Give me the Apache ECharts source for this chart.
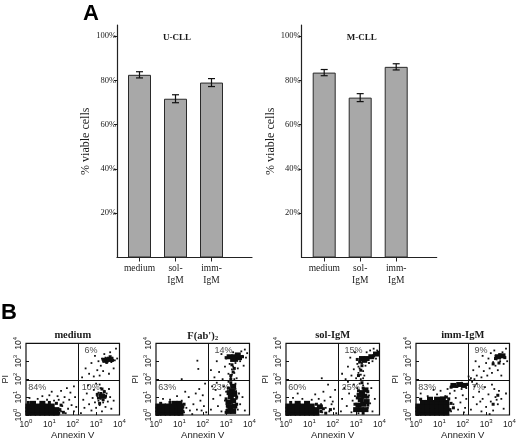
<!DOCTYPE html>
<html><head><meta charset="utf-8">
<script src="https://cdn.jsdelivr.net/npm/echarts@6/dist/echarts.min.js"></script>
<style>html,body{margin:0;padding:0;background:#fff}#c{width:520px;height:441px}</style>
</head><body><div id="c"></div><script>
// ---------- Panel A: % viable cells ----------
const conditionsA = ['medium', 'sol-\nIgM', 'imm-\nIgM'];
const uCllMean = [82.5, 71.7, 79.0];
const uCllErr  = [1.4, 1.8, 1.8];
const mCllMean = [83.5, 72.2, 86.1];
const mCllErr  = [1.4, 1.8, 1.4];
const yTicksA  = [20, 40, 60, 80, 100];
const panelATitles = ['U-CLL', 'M-CLL'];

// ---------- Panel B: Annexin V / PI flow cytometry (log10 intensities) ----------
const facsTitles = ['medium', "F(ab')", 'sol-IgM', 'imm-IgM'];
const gateX = 2.24;   // log10 Annexin V gate
const gateY = 1.92;   // log10 PI gate
const pctLL = [84, 63, 60, 83];
const pctLR = [10, 23, 25, 7];
const pctUR = [6, 14, 15, 9];

// dense population cores
const coreMedium = [[0.1,0.1],[0.3,0.1],[0.5,0.1],[0.7,0.1],[0.9,0.1],[1.1,0.1],[1.3,0.1],
  [0.1,0.3],[0.3,0.3],[0.5,0.3],[0.7,0.3],[0.9,0.3],[1.1,0.3],[1.3,0.3],
  [0.1,0.5],[0.3,0.5],[0.5,0.5],[0.7,0.5],[0.9,0.5],[1.1,0.5],[0.3,0.65],[0.7,0.65],
  [3.4,3.05],[3.6,3.1],[3.25,1.05]];
const coreFab = [[0.1,0.1],[0.3,0.1],[0.5,0.1],[0.7,0.1],[0.9,0.1],[1.05,0.1],
  [0.1,0.3],[0.3,0.3],[0.5,0.3],[0.7,0.3],[0.9,0.3],[1.05,0.3],
  [0.1,0.5],[0.3,0.5],[0.5,0.5],[0.7,0.5],[0.9,0.5],[1.05,0.5],[0.8,0.65],[1.0,0.65],
  [3.1,0.2],[3.3,0.2],[3.2,0.45],[3.35,0.5],[3.1,0.7],[3.3,0.8],[3.2,1.0],[3.35,1.15],[3.25,1.35],[3.3,1.6],[3.15,1.25],
  [3.15,3.25],[3.35,3.25],[3.55,3.2],[3.3,3.1],[3.5,3.35]];
const coreSol = [[0.1,0.1],[0.3,0.1],[0.5,0.1],[0.7,0.1],[0.9,0.1],[1.1,0.1],[1.3,0.1],
  [0.1,0.3],[0.3,0.3],[0.5,0.3],[0.7,0.3],[0.9,0.3],[1.1,0.3],[1.3,0.3],
  [0.1,0.5],[0.3,0.5],[0.5,0.5],[0.7,0.5],[0.9,0.5],[1.1,0.5],[1.45,0.45],[0.5,0.65],[0.9,0.65],
  [3.2,0.3],[3.4,0.3],[3.1,0.55],[3.3,0.6],[3.45,0.75],[3.2,0.85],[3.35,1.05],[3.25,1.25],[3.4,1.4],[3.15,1.1],[3.0,0.3],
  [3.25,3.15],[3.45,3.15],[3.65,3.25],[3.85,3.4],[3.35,3.05]];
const coreImm = [[0.1,0.1],[0.3,0.1],[0.5,0.1],[0.7,0.1],[0.9,0.1],[1.1,0.1],[1.3,0.1],
  [0.1,0.3],[0.3,0.3],[0.5,0.3],[0.7,0.3],[0.9,0.3],[1.1,0.3],[1.3,0.3],
  [0.1,0.5],[0.3,0.5],[0.5,0.5],[0.7,0.5],[0.9,0.5],[1.1,0.5],[1.3,0.5],
  [0.3,0.7],[0.5,0.7],[0.7,0.7],[0.9,0.7],[1.1,0.7],[1.3,0.7],[0.6,0.88],[0.9,0.88],[1.15,0.9],
  [1.6,1.65],[1.85,1.7],[2.05,1.65],[3.5,3.25],[3.7,3.3]];

// moderately dense areas
const midMedium = [[1.45,0.3],[1.5,0.55],[1.3,0.65],[1.0,0.7],[0.1,0.7],[1.6,0.15],[1.4,0.1],
  [3.1,0.95],[3.2,1.2],[3.3,0.85],[3.35,1.3],[3.15,0.65],[3.4,1.05],[3.25,1.45],[3.05,1.15],
  [3.3,3.1],[3.5,3.15],[3.7,3.05],[3.45,2.95],[3.6,3.25]];
const midFab = [[1.15,0.2],[1.15,0.45],[0.6,0.7],[0.2,0.65],[1.2,0.6],
  [3.0,0.15],[3.45,0.6],[3.0,0.9],[3.45,1.0],[3.1,1.5],[3.4,1.3],[3.2,1.8],[3.05,0.5],[3.2,2.0],[3.3,2.4],[3.25,2.8],[3.35,2.6],[3.2,2.2],
  [3.0,3.2],[3.7,3.25],[3.45,3.05]];
const midSol = [[1.5,0.2],[1.6,0.35],[1.3,0.6],[0.2,0.7],[1.7,0.1],[1.9,0.3],
  [2.95,0.6],[3.5,0.55],[3.05,0.95],[3.5,1.0],[3.1,1.35],[3.3,1.5],[3.25,1.8],[3.3,0.1],[3.5,1.3],
  [3.1,2.2],[3.2,2.5],[3.25,2.75],[3.15,2.95],[3.75,3.3],[3.95,3.5],[3.05,3.1]];
const midImm = [[1.45,0.3],[1.5,0.65],[1.4,0.9],[0.2,0.88],[1.6,0.4],[1.3,1.0],
  [1.75,1.6],[1.95,1.75],[2.2,1.7],[1.5,1.55],
  [3.4,3.15],[3.6,3.35],[3.8,3.2],[3.3,2.85],[3.55,2.9],[3.3,0.6],[3.5,1.1]];

// individual events
const eventsMedium = [[1.5,0.2],[1.55,0.5],[1.7,0.1],[1.8,0.35],[1.6,0.7],[1.95,0.55],[2.05,0.2],[2.15,0.45],[1.4,0.85],[1.2,0.8],[0.9,0.85],[0.5,0.9],[0.15,0.95],[1.0,1.1],[1.35,1.05],[1.65,1.0],[1.85,0.85],[1.9,1.25],[2.1,1.0],[1.5,1.35],[1.75,1.5],[2.05,1.6],[0.7,1.05],[1.1,1.3],
  [2.35,0.1],[2.5,0.4],[2.45,0.85],[2.6,1.2],[2.7,0.6],[2.8,0.25],[2.85,0.95],[2.9,1.4],[2.95,0.7],[3.0,0.4],[3.05,1.05],[3.1,0.8],[3.1,1.25],[3.15,0.55],[3.2,1.5],[3.2,0.9],[3.25,0.2],[3.3,1.15],[3.3,0.7],[3.35,1.35],[3.4,0.95],[3.4,0.45],[3.45,1.2],[3.5,0.75],[3.55,1.45],[3.6,1.0],[3.65,0.35],[3.75,0.8],[3.15,1.7],[2.65,1.65],[3.0,1.75],
  [2.4,2.1],[2.55,2.6],[2.7,2.3],[2.8,2.9],[2.9,2.15],[2.95,3.3],[3.05,2.5],[3.1,3.0],[3.15,2.2],[3.2,2.75],[3.25,3.15],[3.3,2.45],[3.35,3.4],[3.45,2.9],[3.5,3.2],[3.55,2.3],[3.6,3.5],[3.65,2.95],[3.7,3.2],[3.75,2.6],[3.8,3.05],[3.85,3.7],[3.9,3.15],[3.3,3.0],[3.5,3.05],[3.7,3.1],[3.4,3.2]];
const eventsFab = [[1.2,0.15],[1.3,0.4],[1.45,0.25],[1.6,0.6],[1.75,0.3],[1.9,0.8],[2.05,0.5],[2.15,0.15],[1.1,0.8],[0.6,0.85],[0.3,0.9],[1.4,1.0],[1.7,1.2],[2.0,1.1],[1.85,1.45],[2.1,1.75],[1.25,1.3],[0.9,1.05],[1.55,0.05],[1.95,0.25],
  [2.35,0.3],[2.45,0.9],[2.55,1.4],[2.65,0.5],[2.75,1.1],[2.8,0.2],[2.9,1.6],[2.95,0.8],[3.0,1.3],[3.05,0.4],[3.1,1.85],[3.2,1.7],[3.25,0.65],[3.4,1.45],[3.45,0.9],[3.5,0.3],[3.55,1.2],[3.6,0.6],[3.7,1.0],[3.8,0.25],[3.4,1.75],[2.6,1.8],[2.4,1.6],[3.15,0.95],[3.38,0.35],
  [2.35,2.5],[2.5,2.1],[2.6,3.0],[2.7,2.4],[2.8,3.4],[2.85,2.0],[2.95,2.7],[3.0,3.15],[3.1,2.3],[3.15,2.85],[3.2,2.1],[3.25,2.55],[3.3,3.5],[3.35,2.35],[3.4,2.9],[3.45,2.05],[3.5,2.6],[3.6,3.0],[3.65,3.55],[3.7,3.3],[3.75,2.75],[3.8,3.65],[3.85,3.2],[3.9,3.45],[3.3,2.7],[3.25,2.25],[3.35,2.0],
  [1.77,3.03],[1.81,2.57],[1.1,2.0]];
const eventsSol = [[1.55,0.15],[1.7,0.4],[1.85,0.2],[1.95,0.6],[2.05,0.35],[2.15,0.1],[1.65,0.8],[1.4,0.9],[1.1,0.85],[0.7,0.9],[0.3,0.95],[1.25,1.15],[1.6,1.3],[1.9,1.0],[2.1,1.4],[0.5,1.2],[1.8,1.7],[2.0,0.75],[1.5,0.6],
  [2.35,0.2],[2.4,0.9],[2.5,1.5],[2.6,0.5],[2.7,1.2],[2.8,0.15],[2.85,0.8],[2.9,1.7],[2.95,1.05],[3.05,1.5],[3.1,0.1],[3.15,1.75],[3.5,0.4],[3.55,1.1],[3.6,0.65],[3.65,1.5],[3.7,0.2],[3.8,0.9],[3.3,1.65],[3.5,1.75],[2.65,1.85],
  [2.4,2.3],[2.55,2.0],[2.65,2.7],[2.75,3.2],[2.8,2.2],[2.9,2.55],[2.95,3.5],[3.0,2.05],[3.05,2.85],[3.1,2.35],[3.15,2.6],[3.2,2.0],[3.25,2.9],[3.3,2.45],[3.35,2.2],[3.4,2.75],[3.45,3.5],[3.55,2.9],[3.6,3.6],[3.7,3.0],[3.75,3.7],[3.85,3.15],[3.9,3.6],[3.2,2.25],[3.1,2.7],[3.3,2.05],
  [1.53,2.05]];
const eventsImm = [[1.5,0.2],[1.6,0.6],[1.7,0.95],[1.8,0.3],[1.9,0.7],[2.0,1.1],[2.1,0.4],[2.15,0.9],[1.45,1.2],[1.25,1.05],[0.9,1.15],[0.5,1.05],[0.2,1.2],[1.65,1.35],[1.95,1.45],[2.15,1.5],[1.35,1.45],[1.05,1.35],[0.75,1.4],[2.05,0.15],[1.75,1.55],[1.5,1.6],[2.2,1.75],[1.95,1.8],
  [2.35,0.3],[2.45,1.0],[2.5,1.6],[2.6,0.6],[2.7,1.3],[2.8,0.2],[2.85,0.9],[2.95,1.55],[3.0,0.45],[3.1,1.15],[3.2,0.75],[3.25,1.7],[3.3,0.25],[3.4,1.0],[3.5,0.6],[3.55,1.35],[3.65,0.9],[3.75,0.35],[3.85,1.2],[2.4,1.85],[2.6,1.75],[3.35,1.45],[3.45,0.85],[3.15,0.05],[2.75,0.75],
  [2.35,2.05],[2.45,2.5],[2.55,3.0],[2.6,2.2],[2.7,2.7],[2.8,2.1],[2.85,3.3],[2.9,2.45],[3.0,2.9],[3.05,2.2],[3.1,3.15],[3.15,2.6],[3.2,3.45],[3.25,2.35],[3.3,2.95],[3.35,3.6],[3.4,2.75],[3.45,3.1],[3.5,2.5],[3.55,3.4],[3.6,3.0],[3.65,2.2],[3.7,3.5],[3.75,2.85],[3.8,3.25],[3.85,3.7],[3.9,3.0],[3.4,3.3],[3.6,3.15],[2.5,2.0],[2.25,2.15],[2.3,1.95]];

const coresB = [coreMedium, coreFab, coreSol, coreImm];
const midsB = [midMedium, midFab, midSol, midImm];
const eventsB = [eventsMedium, eventsFab, eventsSol, eventsImm];

// ---------- layout ----------
const SERIF = '"Liberation Serif","DejaVu Serif",serif';
const SANS = '"Liberation Sans",Arial,sans-serif';
const INK = '#1a1a1a';
const gridsA = [{left:117, top:25, width:135, height:232.5}, {left:301.7, top:25, width:135, height:232.5}];
const gridB = i => ({left:26 + 130*i, top:343.3, width:93.5, height:71.7});
const pctPos = {LL:[0.1, 1.55], LR:[2.38, 1.55], UR:[2.5, 3.62]};

const grid = [], xAxis = [], yAxis = [], series = [], title = [];

function errItem(params, api) {
  const x = api.value(0), lo = api.value(1), hi = api.value(2);
  const a = api.coord([x, lo]), b = api.coord([x, hi]);
  const w = 3.5, st = {stroke:'#111', lineWidth:1.2};
  return {type:'group', children:[
    {type:'line', shape:{x1:a[0], y1:a[1], x2:b[0], y2:b[1]}, style:st},
    {type:'line', shape:{x1:a[0]-w, y1:a[1], x2:a[0]+w, y2:a[1]}, style:st},
    {type:'line', shape:{x1:b[0]-w, y1:b[1], x2:b[0]+w, y2:b[1]}, style:st}
  ]};
}

[[uCllMean, uCllErr], [mCllMean, mCllErr]].forEach(([mean, err], g) => {
  grid.push(Object.assign({outerBoundsMode:'none', containLabel:false}, gridsA[g]));
  xAxis.push({type:'value', gridIndex:g, min:0.375, max:4.125,
    splitLine:{show:false},
    axisLine:{show:true, onZero:false, lineStyle:{color:'#222', width:1.2}},
    axisTick:{show:true, customValues:[1,2,3], length:4, lineStyle:{color:'#222'}},
    axisLabel:{show:true, customValues:[1,2,3], formatter:v => conditionsA[Math.round(v)-1] || '',
      fontFamily:SERIF, fontSize:9.5, color:INK, lineHeight:12, margin:5}});
  yAxis.push({type:'value', gridIndex:g, min:0, max:105,
    splitLine:{show:false},
    axisLine:{show:true, lineStyle:{color:'#222', width:1.2}},
    axisTick:{show:true, customValues:yTicksA, length:3, lineStyle:{color:'#222'}},
    axisLabel:{customValues:yTicksA, formatter:v => v + '%', fontFamily:SERIF, fontSize:8.5, color:INK, margin:1},
    name:'% viable cells', nameLocation:'middle', nameGap:22,
    nameTextStyle:{fontFamily:SERIF, fontSize:12, color:INK}});
  series.push({type:'bar', xAxisIndex:g, yAxisIndex:g, barWidth:23,
    data: mean.map((v, i) => [i+1, v]),
    itemStyle:{color:'#a8a8a8', borderColor:'#2a2a2a', borderWidth:1}});
  series.push({type:'custom', xAxisIndex:g, yAxisIndex:g, renderItem:errItem,
    data: mean.map((v, i) => [i+1, v - err[i], v + err[i]]), z:5});
  title.push({text:panelATitles[g], left:gridsA[g].left + 60, top:33, padding:0, textAlign:'center',
    textStyle:{fontFamily:SERIF, fontWeight:'bold', fontSize:9, color:INK}});
});

const decLabel = v => '{b|10}{s|' + v + '}';
const richDec = {b:{fontFamily:SANS, fontSize:8.5, color:INK, lineHeight:11, verticalAlign:'bottom'},
                 s:{fontFamily:SANS, fontSize:6, color:INK, lineHeight:6, verticalAlign:'top'}};

facsTitles.forEach((t, i) => {
  const gi = 2 + i, gb = gridB(i);
  grid.push(Object.assign({outerBoundsMode:'none', containLabel:false, show:true, borderColor:'#111', borderWidth:1.2, backgroundColor:'#fff'}, gb));
  xAxis.push({type:'value', gridIndex:gi, min:0, max:4, interval:1, splitLine:{show:false},
    axisLine:{show:false}, axisTick:{show:true, inside:true, length:3, lineStyle:{color:'#111'}},
    axisLabel:{formatter:decLabel, rich:richDec, margin:3, showMinLabel:true, showMaxLabel:true},
    name:'Annexin V', nameLocation:'middle', nameGap:13,
    nameTextStyle:{fontFamily:SANS, fontSize:9.5, color:INK}});
  yAxis.push({type:'value', gridIndex:gi, min:0, max:4, interval:1, splitLine:{show:false},
    axisLine:{show:false}, axisTick:{show:true, inside:true, length:3, lineStyle:{color:'#111'}},
    axisLabel:{formatter:decLabel, rich:richDec, rotate:90, margin:3, showMinLabel:true, showMaxLabel:true},
    name:'PI', nameLocation:'middle', nameGap:16, nameRotate:90,
    nameTextStyle:{fontFamily:SANS, fontSize:9, color:INK}});
  series.push({type:'scatter', xAxisIndex:gi, yAxisIndex:gi, symbol:'rect', symbolSize:[6,5],
    data:coresB[i], itemStyle:{color:'#0d0d0d', opacity:1}, silent:true});
  series.push({type:'scatter', xAxisIndex:gi, yAxisIndex:gi, symbol:'rect', symbolSize:3,
    data:midsB[i], itemStyle:{color:'#0d0d0d', opacity:1}, silent:true});
  series.push({type:'scatter', xAxisIndex:gi, yAxisIndex:gi, symbol:'rect', symbolSize:1.8,
    data:eventsB[i], itemStyle:{color:'#111', opacity:1}, silent:true,
    markLine:{silent:true, symbol:'none', animation:false, label:{show:false},
      lineStyle:{color:'#111', type:'solid', width:1},
      data:[{xAxis:gateX}, {yAxis:gateY}]}});
  series.push({type:'scatter', xAxisIndex:gi, yAxisIndex:gi, symbolSize:0, silent:true,
    data:[[...pctPos.LL, pctLL[i]], [...pctPos.LR, pctLR[i]], [...pctPos.UR, pctUR[i]]],
    label:{show:true, position:'right', distance:0, formatter:p => p.value[2] + '%',
      fontFamily:SANS, fontSize:9, color:INK}, z:10});
  title.push({text: i === 1 ? t + '{sub|2}' : t, left:gb.left + gb.width/2, top:330, padding:0, textAlign:'center',
    textStyle:{fontFamily:SERIF, fontWeight:'bold', fontSize:10.5, color:INK,
      rich:{sub:{fontFamily:SERIF, fontWeight:'bold', fontSize:7, color:INK, verticalAlign:'bottom', padding:[5,0,0,0]}}}});
});

const chart = echarts.init(document.getElementById('c'), null, {renderer:'canvas'});
chart.setOption({
  animation:false, backgroundColor:'#fff',
  title, grid, xAxis, yAxis, series,
  graphic:[
    {type:'text', left:83, top:3, style:{text:'A', font:'bold 22px "Liberation Sans", Arial, sans-serif', fill:'#000'}},
    {type:'text', left:1, top:302, style:{text:'B', font:'bold 22px "Liberation Sans", Arial, sans-serif', fill:'#000'}}
  ]
});
</script></body></html>
